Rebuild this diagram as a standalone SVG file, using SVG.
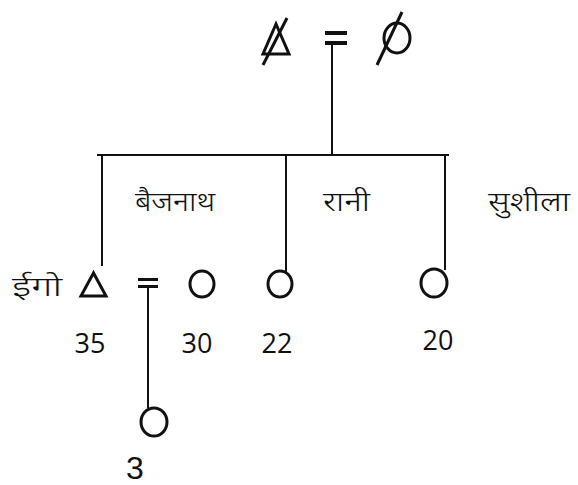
<svg xmlns="http://www.w3.org/2000/svg" width="578" height="485" viewBox="0 0 578 485">
<style>
.ln{stroke:#111;stroke-width:2;fill:none}
.sym{stroke:#111;stroke-width:3;fill:none}
.dev{font-family:"Noto Sans Devanagari","Noto Sans",sans-serif;font-size:27px;font-weight:300;fill:#111}
.num{font-family:"Open Sans","Liberation Sans",sans-serif;font-size:27px;fill:#111;text-anchor:middle}
.big{font-family:"Liberation Sans",sans-serif;font-size:32px;fill:#111;text-anchor:middle}
</style>
<rect width="578" height="485" fill="#fff"/>
<g id="connectors">
<line class="ln" x1="332" y1="45" x2="332" y2="155"/>
<line class="ln" x1="97" y1="155" x2="449" y2="155"/>
<line class="ln" x1="102" y1="155" x2="102" y2="266"/>
<line class="ln" x1="286" y1="155" x2="286" y2="272"/>
<line class="ln" x1="445" y1="155" x2="445" y2="270"/>
<line class="ln" x1="148" y1="288" x2="148" y2="408"/>
</g>
<g id="father">
<polygon class="sym" stroke-width="3.5" points="276,24 263,54 289,54"/>
<line class="sym" x1="263" y1="65" x2="287" y2="18"/>
</g>
<g id="parents-marriage">
<rect x="325" y="31" width="22" height="4" fill="#111"/>
<rect x="325" y="41" width="22" height="4" fill="#111"/>
</g>
<g id="mother">
<ellipse class="sym" stroke-width="3.5" cx="397" cy="38" rx="13" ry="15"/>
<line class="sym" x1="377" y1="65" x2="402" y2="12"/>
</g>
<g id="baijnath">
<text class="dev" x="135" y="211" textLength="80" lengthAdjust="spacingAndGlyphs">बैजनाथ</text>
<text class="dev" x="12" y="296" textLength="50" lengthAdjust="spacingAndGlyphs">ईगो</text>
<polygon class="sym" points="93.5,273 81,296 106,296"/>
<text class="num" x="90" y="353">35</text>
</g>
<g id="ego-marriage">
<rect x="138" y="278" width="20" height="3" fill="#111"/>
<rect x="138" y="285" width="20" height="3" fill="#111"/>
</g>
<g id="wife">
<ellipse class="sym" cx="202" cy="284" rx="12" ry="13"/>
<text class="num" x="197" y="353">30</text>
</g>
<g id="rani">
<text class="dev" x="323" y="211" textLength="47" lengthAdjust="spacingAndGlyphs">रानी</text>
<ellipse class="sym" cx="280" cy="284" rx="12" ry="13"/>
<text class="num" x="277" y="353">22</text>
</g>
<g id="sushila">
<text class="dev" x="488" y="211" textLength="82" lengthAdjust="spacingAndGlyphs">सुशीला</text>
<ellipse class="sym" cx="434" cy="283" rx="13" ry="14"/>
<text class="num" x="438" y="350">20</text>
</g>
<g id="child">
<ellipse class="sym" cx="154" cy="422" rx="13" ry="14"/>
<text class="big" x="135" y="479">3</text>
</g>
</svg>
